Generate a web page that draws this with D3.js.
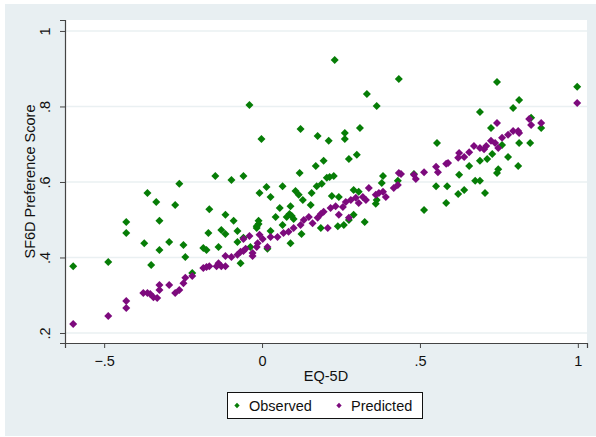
<!DOCTYPE html>
<html>
<head>
<meta charset="utf-8">
<script src="https://cdn.jsdelivr.net/npm/d3@7"></script>
<style>
  body { margin: 0; background: #fff; }
  text { font-family: "Liberation Sans", Arial, sans-serif; fill: #111; }
</style>
</head>
<body>
<svg id="chart" width="596" height="437"></svg>
<script>
// EQ-5D (x) vs SF6D preference score (y)
var observedX = [-0.598,-0.487,-0.430,-0.430,-0.363,-0.335,-0.373,-0.325,-0.351,-0.325,
  -0.294,-0.275,-0.262,-0.249,-0.243,-0.221,-0.167,-0.148,-0.097,-0.059,
  -0.008,-0.186,-0.176,-0.138,-0.170,-0.116,-0.090,-0.129,-0.116,-0.078,
  -0.078,-0.068,-0.059,-0.017,-0.011,-0.040,-0.002,0.230,0.433,0.332,
  0.363,0.122,0.176,0.211,0.262,0.262,0.310,0.275,0.300,0.195,
  0.170,0.119,0.214,0.227,0.205,0.189,0.014,0.065,0.027,0.106,
  0.116,0.129,0.154,0.157,0.173,0.221,0.243,0.290,0.306,0.383,
  0.379,0.430,0.481,0.554,0.551,0.586,0.583,0.513,0.056,0.090,
  0.087,0.043,0.078,0.100,-0.011,-0.017,0.027,0.065,0.094,0.125,
  0.186,0.240,0.259,0.275,0.290,0.325,0.360,0.363,0.090,0.017,
  -0.037,0.744,0.998,0.814,0.795,0.690,0.852,0.725,0.884,0.814,
  0.849,0.760,0.729,0.779,0.713,0.690,0.656,0.811,0.748,0.744,
  0.624,0.675,0.690,0.640,0.621,0.706];
var observedY = [0.377,0.388,0.494,0.465,0.571,0.547,0.438,0.497,0.380,0.420,
  0.441,0.539,0.595,0.433,0.401,0.359,0.528,0.616,0.605,0.616,
  0.571,0.425,0.420,0.428,0.465,0.513,0.497,0.473,0.462,0.470,
  0.441,0.385,0.452,0.478,0.489,0.804,0.714,0.923,0.873,0.833,
  0.801,0.740,0.722,0.709,0.730,0.714,0.743,0.661,0.672,0.656,
  0.642,0.624,0.613,0.616,0.611,0.595,0.587,0.589,0.560,0.576,
  0.566,0.552,0.539,0.571,0.589,0.563,0.560,0.579,0.574,0.616,
  0.597,0.603,0.621,0.703,0.589,0.589,0.544,0.526,0.531,0.536,
  0.515,0.507,0.507,0.502,0.497,0.483,0.470,0.486,0.510,0.462,
  0.478,0.483,0.486,0.499,0.513,0.494,0.542,0.552,0.438,0.423,
  0.428,0.865,0.852,0.817,0.796,0.785,0.770,0.743,0.743,0.703,
  0.703,0.698,0.674,0.666,0.661,0.656,0.642,0.642,0.634,0.624,
  0.619,0.603,0.603,0.579,0.568,0.571];

var predictedX = [-0.598,-0.487,-0.430,-0.430,-0.376,-0.363,-0.354,-0.344,-0.332,-0.325,
  -0.325,-0.294,-0.275,-0.262,-0.249,-0.243,-0.221,-0.186,-0.176,-0.167,
  -0.144,-0.138,-0.129,-0.116,-0.116,-0.097,-0.078,-0.068,-0.059,-0.052,
  -0.030,-0.017,-0.059,-0.040,-0.008,-0.030,-0.014,0.002,0.017,0.027,
  0.049,0.068,0.084,0.100,0.122,0.132,0.148,0.160,0.176,0.186,
  0.195,0.208,0.217,0.233,0.243,0.256,0.265,0.275,0.281,0.297,
  0.306,0.319,0.329,0.338,0.360,0.370,0.383,0.392,0.417,0.430,
  0.433,0.440,0.481,0.487,0.513,0.551,0.557,0.583,0.589,0.621,
  0.624,0.640,0.656,0.671,0.690,0.703,0.710,0.725,0.738,0.748,
  0.744,0.760,0.779,0.795,0.811,0.814,0.846,0.852,0.884,0.998];
var predictedY = [0.224,0.245,0.285,0.266,0.306,0.306,0.303,0.295,0.293,0.314,
  0.327,0.327,0.306,0.314,0.332,0.346,0.351,0.372,0.375,0.377,
  0.377,0.385,0.377,0.377,0.404,0.401,0.407,0.415,0.417,0.423,
  0.404,0.428,0.449,0.457,0.460,0.412,0.438,0.449,0.428,0.454,
  0.454,0.465,0.468,0.478,0.486,0.499,0.507,0.491,0.505,0.515,
  0.521,0.478,0.531,0.536,0.513,0.534,0.547,0.505,0.552,0.558,
  0.544,0.560,0.552,0.584,0.566,0.571,0.574,0.560,0.584,0.592,
  0.624,0.621,0.619,0.608,0.626,0.640,0.626,0.648,0.650,0.664,
  0.677,0.666,0.679,0.695,0.690,0.687,0.695,0.709,0.703,0.690,
  0.756,0.717,0.725,0.735,0.735,0.730,0.767,0.751,0.756,0.809];

var xTicks = [-0.5, 0, 0.5, 1];
var yTicks = [0.2, 0.4, 0.6, 0.8, 1];
var seriesNames = ['Observed', 'Predicted'];
var seriesColors = ['#067d06', '#7d0a7d'];

var W = 596, H = 437,
    FONT = '14.5px',
    plot = { left: 65, top: 20, right: 587, bottom: 343 };

var svg = d3.select('#chart');

// stata style outer panel
svg.append('rect')
  .attr('x', 5).attr('y', 4).attr('width', W - 5).attr('height', H - 5)
  .attr('fill', '#e8eff2');
svg.append('rect')
  .attr('x', plot.left).attr('y', plot.top)
  .attr('width', plot.right - plot.left).attr('height', plot.bottom - plot.top)
  .attr('fill', '#fff');

var x = d3.scaleLinear().domain([-0.624, 1.029]).range([plot.left, plot.right]),
    y = d3.scaleLinear().domain([0.1735, 1.029]).range([plot.bottom, plot.top]);

var fmt = function(d) {
  if (d === 0 || d === 1) return String(d);
  return d3.format('.1f')(d).replace('0.', '.');
};

// horizontal grid
svg.append('g').selectAll('line')
  .data(yTicks)
  .enter().append('line')
    .attr('x1', plot.left).attr('x2', plot.right)
    .attr('y1', function(d) { return y(d); })
    .attr('y2', function(d) { return y(d); })
    .attr('stroke', '#eaf0f2').attr('stroke-width', 1.5);

var xAxis = svg.append('g')
  .attr('transform', 'translate(0,' + plot.bottom + ')')
  .call(d3.axisBottom(x).tickValues(xTicks).tickFormat(fmt).tickSize(5).tickPadding(4));

var yAxis = svg.append('g')
  .attr('transform', 'translate(' + plot.left + ',0)')
  .call(d3.axisLeft(y).tickValues(yTicks).tickFormat(fmt).tickSize(5).tickPadding(4));

[xAxis, yAxis].forEach(function(a) {
  a.select('.domain').attr('stroke', '#444').attr('stroke-width', 1.2);
  a.selectAll('.tick line').attr('stroke', '#444');
  a.selectAll('text').style('font-size', FONT)
    .style('font-family', '"Liberation Sans", Arial, sans-serif').attr('fill', '#111');
});
xAxis.selectAll('text').attr('dy', '0.95em');

// y tick labels are rotated in stata
yAxis.selectAll('.tick text')
  .attr('x', null).attr('dy', null)
  .attr('text-anchor', 'middle')
  .attr('transform', 'translate(-15,0) rotate(-90)');

svg.append('text')
  .attr('x', (plot.left + plot.right) / 2).attr('y', 381)
  .attr('text-anchor', 'middle').style('font-size', FONT)
  .text('EQ-5D');

svg.append('text')
  .attr('transform', 'translate(35,' + ((plot.top + plot.bottom) / 2) + ') rotate(-90)')
  .attr('text-anchor', 'middle').style('font-size', FONT)
  .text('SF6D Preference Score');

var diamond = d3.symbol().type(d3.symbolSquare).size(32);

var drawSeries = function(xs, ys, color) {
  svg.append('g').selectAll('path')
    .data(xs.map(function(v, i) { return [v, ys[i]]; }))
    .enter().append('path')
      .attr('d', diamond)
      .attr('fill', color)
      .attr('transform', function(d) {
        return 'translate(' + x(d[0]) + ',' + y(d[1]) + ') rotate(45)';
      });
};

drawSeries(observedX, observedY, seriesColors[0]);
drawSeries(predictedX, predictedY, seriesColors[1]);

// legend
var legend = svg.append('g');
legend.append('rect')
  .attr('x', 227.5).attr('y', 392.5).attr('width', 195).attr('height', 26)
  .attr('fill', '#fff').attr('stroke', '#111');

var legendX = [237, 339];
seriesNames.forEach(function(name, i) {
  legend.append('path')
    .attr('d', d3.symbol().type(d3.symbolSquare).size(14))
    .attr('fill', seriesColors[i])
    .attr('transform', 'translate(' + legendX[i] + ',405.5) rotate(45)');
  legend.append('text')
    .attr('x', legendX[i] + 12).attr('y', 410.5)
    .style('font-size', FONT)
    .text(name);
});
</script>
</body>
</html>
